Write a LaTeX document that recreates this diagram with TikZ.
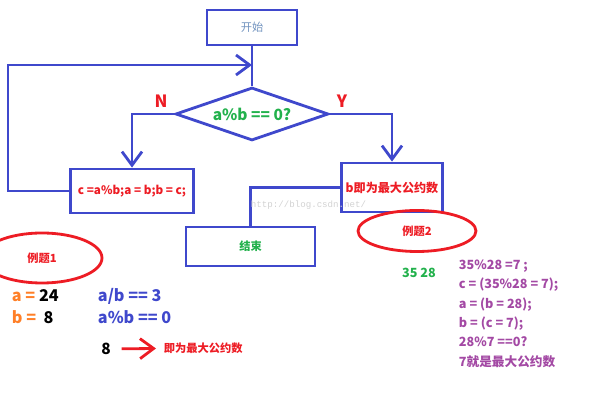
\documentclass[tikz,border=0pt]{standalone}
\usepackage{fontspec}
\setmainfont{Noto Sans CJK SC}
\setmonofont{Liberation Mono}
\usetikzlibrary{
  arrows.meta,
  positioning,
  shapes.geometric
}
\definecolor{lan}{HTML}{3F48CC}
\definecolor{huilan}{HTML}{7092BE}
\definecolor{hong}{HTML}{ED1C24}
\definecolor{lv}{HTML}{22B14C}
\definecolor{cheng}{HTML}{FF7F27}
\definecolor{zi}{HTML}{A349A4}

\begin{document}
\begin{tikzpicture}[
      >={Straight Barb[length=3.4mm,width=5mm]},
      kuang/.style={draw=lan, line width=2pt, align=center, inner sep=2pt},
      panduan/.style={draw=lan, line width=2pt, diamond, aspect=2.9, inner sep=1pt, minimum width=3.825cm, minimum height=1.325cm, text=lv, font=\fontsize{11}{13}\selectfont\bfseries},
      xian/.style={draw=lan, line width=2pt},
      jiantou/.style={->, draw=lan, line width=2pt},
      hongjian/.style={->, draw=hong, line width=2pt},
      tuoyuan/.style={draw=hong, line width=2pt, ellipse, text=hong, font=\fontsize{8}{10}\selectfont\bfseries},
      biaoqian/.style={text=hong, font=\fontsize{12}{14}\selectfont\bfseries}
  ]
      \useasboundingbox (0,0) rectangle (15,-10);

      % 流程图
      \node[kuang, minimum width=2.25cm, minimum height=0.875cm, text=huilan, font=\fontsize{8}{10}\selectfont] (kaishi) at (6.3,-0.6875) {开始};
      \node[panduan] (pd) at (6.3,-2.85) {a\%b == 0?};
      \node[kuang, minimum width=3.075cm, minimum height=1.1cm, text=hong, font=\fontsize{8.3}{10}\selectfont\bfseries] (jisuan) at (3.3,-4.775) {c =a\%b;a = b;b = c;};
      \node[kuang, minimum width=2.525cm, minimum height=1.225cm, text=hong, font=\fontsize{8.6}{10}\selectfont\bfseries] (jieguo) at (9.8,-4.6875) {b即为最大公约数};
      \node[kuang, minimum width=3.225cm, minimum height=0.975cm, text=lv, font=\fontsize{8}{10}\selectfont\bfseries] (jieshu) at (6.2625,-6.1625) {结束};
      \coordinate (huiquan) at (0.2,-1.625);

      \node[biaoqian] (n) at (4.025,-2.525) {N};
      \node[biaoqian] (y) at (8.55,-2.525) {Y};

      % 连线
      \draw[xian] (kaishi) -- (pd);
      \draw[jiantou] (pd.west) -| (jisuan.north);
      \draw[jiantou] (pd.east) -| (jieguo.north);
      \draw[jiantou] (jisuan.west) -| (huiquan) -- (huiquan -| kaishi.south);
      \draw[xian] (jieguo.west) -| (jieshu.north);

      % 水印
      \node[anchor=west, text=gray!35, font=\ttfamily\fontsize{6.5}{7}\selectfont] (shuiyin) at (6.15,-5.125) {http://blog.csdn.net/};

      % 例题1
      \node[tuoyuan, minimum width=3cm, minimum height=1.25cm] (li1) at (1.05,-6.45) {例题1};
      \node[anchor=west, font=\fontsize{11.5}{13}\selectfont\bfseries] (a1) at (0.175,-7.4) {\textcolor{cheng}{a =} 24};
      \node[anchor=west, font=\fontsize{11.5}{13}\selectfont\bfseries] (b1) at (0.175,-7.925) {\textcolor{cheng}{b =}\ \ 8};
      \node[anchor=west, text=lan, font=\fontsize{11.5}{13}\selectfont\bfseries] (chu1) at (2.325,-7.4) {a/b == 3};
      \node[anchor=west, text=lan, font=\fontsize{11.5}{13}\selectfont\bfseries] (yu1) at (2.325,-7.925) {a\%b == 0};
      \node[font=\fontsize{11}{13}\selectfont\bfseries] (ba) at (2.65,-8.725) {8};
      \node[anchor=west, text=hong, font=\fontsize{8}{10}\selectfont\bfseries] (gcd1) at (3.975,-8.7) {即为最大公约数};
      \draw[hongjian, shorten <=1.5mm, shorten >=0.75mm] (ba) -- (gcd1);

      % 例题2
      \node[tuoyuan, minimum width=2.95cm, minimum height=1.025cm] (li2) at (10.425,-5.775) {例题2};
      \node[text=lv, font=\fontsize{9}{11}\selectfont\bfseries] (shu2) at (10.475,-6.825) {35 28};
      \node[anchor=north west, align=left, text=zi, font=\fontsize{9}{13.8}\selectfont\bfseries] (guocheng2) at (11.35,-6.37) {
          35\%28 =7 ;\\
          c = (35\%28 = 7);\\
          a = (b = 28);\\
          b = (c = 7);\\
          28\%7 ==0?\\
          7就是最大公约数
      };

  \end{tikzpicture}
\end{document}
